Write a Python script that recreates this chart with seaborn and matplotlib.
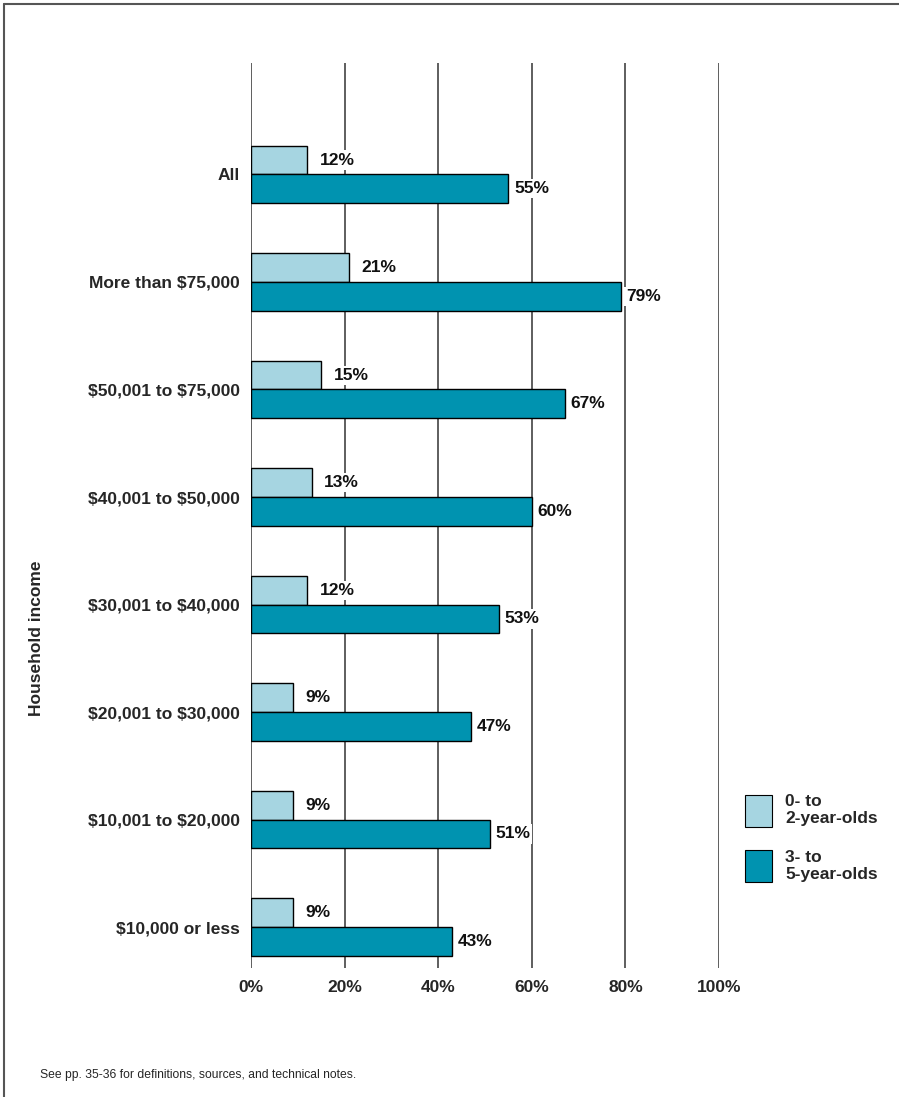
import matplotlib
matplotlib.use("Agg")
import matplotlib.pyplot as plt
from matplotlib.lines import Line2D
from matplotlib.patches import Patch
import seaborn as sns
import pandas as pd

categories = ["All", "More than $75,000", "$50,001 to $75,000", "$40,001 to $50,000",
              "$30,001 to $40,000", "$20,001 to $30,000", "$10,001 to $20,000",
              "$10,000 or less"]
infants = [12, 21, 15, 13, 12, 9, 9, 9]
preschoolers = [55, 79, 67, 60, 53, 47, 51, 43]
series_names = ["0- to\n2-year-olds", "3- to\n5-year-olds"]
x_ticks = [0, 20, 40, 60, 80, 100]
x_tick_labels = ["0%", "20%", "40%", "60%", "80%", "100%"]

light = "#A6D5E1"
dark = "#0093B0"
FS = 12.5

df = pd.DataFrame({
    "income": categories * 2,
    "pct": infants + preschoolers,
    "group": [series_names[0]] * len(categories) + [series_names[1]] * len(categories),
})

sns.set_style("white")
plt.rcParams["font.family"] = ["Liberation Sans", "DejaVu Sans"]

W, H = 899, 1097
fig = plt.figure(figsize=(W / 100, H / 100), dpi=100)
ax = fig.add_axes([251 / W, 1 - 968 / H, (719 - 251) / W, (968 - 63) / H])

sns.barplot(data=df, y="income", x="pct", hue="group", order=categories,
            hue_order=series_names, palette=[light, dark], width=0.535,
            edgecolor="black", linewidth=1.0, saturation=1, ax=ax,
            legend=False, zorder=3)

ax.set_xlim(0, 100)
ax.set_ylim(7.38, -1.036)
ax.set_xticks(x_ticks)
ax.set_xticklabels(x_tick_labels, fontsize=FS, fontweight="bold")
ax.set_yticks(range(len(categories)))
ax.set_yticklabels([c.replace("$", r"\$") for c in categories],
                   fontsize=FS, fontweight="bold")
ax.tick_params(axis="both", length=0)
ax.tick_params(axis="x", pad=9)
ax.tick_params(axis="y", pad=8)
for s in ax.spines.values():
    s.set_visible(False)
ax.set_xlabel("")
ax.set_ylabel("")

for x in x_ticks:
    ax.axvline(x, color="#333333", lw=1.1, zorder=1)

label_box = dict(facecolor="white", edgecolor="none", pad=1.5)
for container, pad in zip(ax.containers, [9, 4]):
    texts = ax.bar_label(container, labels=[f"{v:g}%" for v in container.datavalues],
                         padding=pad, fontsize=FS, fontweight="bold", color="#111111")
    for t in texts:
        t.set_bbox(label_box)
        t.set_zorder(4)

fig.text(37 / W, 1 - 638 / H, "Household income", rotation=90, ha="center",
         va="center", fontsize=FS, fontweight="bold")

handles = [Patch(facecolor=light, edgecolor="black", linewidth=0.8),
           Patch(facecolor=dark, edgecolor="black", linewidth=0.8)]
fig.legend(handles, series_names, loc="upper left",
           bbox_to_anchor=(745 / W, 1 - 794 / H), frameon=False, borderpad=0,
           borderaxespad=0, prop={"size": FS, "weight": "bold"},
           handlelength=27 / 17.4, handleheight=43 / 17.4, handletextpad=0.75,
           labelspacing=1.3)

fig.text(40 / W, 1 - 1075 / H, "See pp. 35-36 for definitions, sources, and technical notes.",
         ha="left", va="center", fontsize=8.7,
         family=["Liberation Sans Narrow", "Liberation Sans", "DejaVu Sans"])

# frame along the top and left edges
fig.add_artist(Line2D([4 / W, 1], [1 - 4 / H, 1 - 4 / H], color="#555555", lw=1.5,
                      transform=fig.transFigure))
fig.add_artist(Line2D([4 / W, 4 / W], [0, 1 - 4 / H], color="#555555", lw=1.5,
                      transform=fig.transFigure))

fig.savefig("out.png", dpi=100)
